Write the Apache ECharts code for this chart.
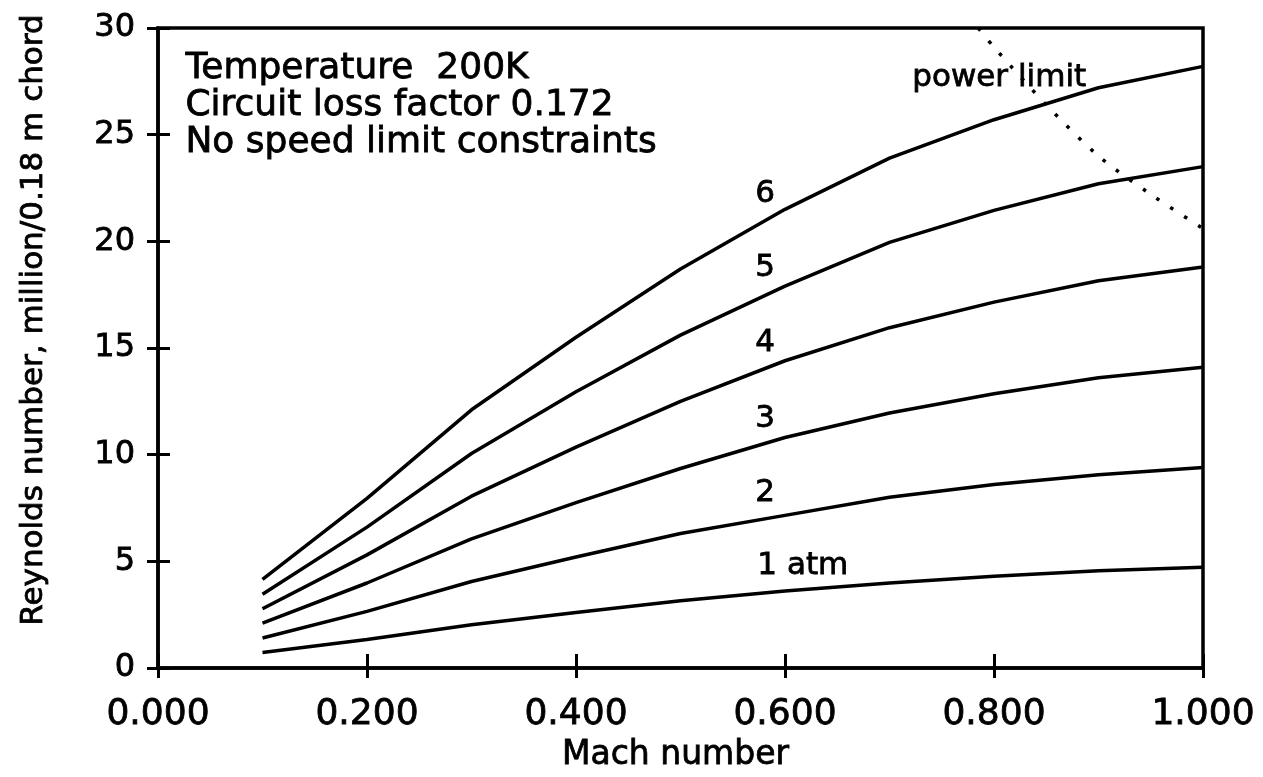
<!DOCTYPE html>
<html><head><meta charset="utf-8">
<script src="https://cdn.jsdelivr.net/npm/echarts@6/dist/echarts.min.js"></script>
<style>html,body{margin:0;padding:0;background:#fff}#c{width:1263px;height:777px}</style>
</head><body><div id="c"></div>
<script>
// ---- data ----
const mach = [0.1, 0.2, 0.3, 0.4, 0.5, 0.6, 0.7, 0.8, 0.9, 1.0];
const re1atm = [0.72, 1.33, 2.02, 2.60, 3.15, 3.60, 3.98, 4.30, 4.55, 4.72];
const re2atm = [1.40, 2.65, 4.05, 5.20, 6.30, 7.15, 8.00, 8.60, 9.05, 9.40];
const re3atm = [2.10, 3.98, 6.05, 7.75, 9.35, 10.80, 11.95, 12.85, 13.60, 14.10];
const re4atm = [2.77, 5.30, 8.05, 10.35, 12.50, 14.40, 15.95, 17.15, 18.15, 18.80];
const re5atm = [3.45, 6.60, 10.05, 12.95, 15.60, 17.90, 19.95, 21.45, 22.70, 23.50];
const re6atm = [4.15, 7.95, 12.10, 15.50, 18.70, 21.50, 23.90, 25.70, 27.20, 28.20];
const powerMach = [0.785, 0.80, 0.85, 0.90, 0.95, 1.00];
const powerRe = [30.0, 29.1, 26.4, 24.0, 22.2, 20.6];
const curveLabels = ['1 atm', '2', '3', '4', '5', '6', 'power limit'];
const curveLabelMach = [0.617, 0.581, 0.581, 0.581, 0.581, 0.581, 0.805];
const curveLabelRe = [4.77, 8.21, 11.65, 15.23, 18.76, 22.2, 27.66];
const notes = ['Temperature  200K', 'Circuit loss factor 0.172', 'No speed limit constraints'];
const xTitle = 'Mach number';
const yTitle = 'Reynolds number, million/0.18 m chord';

// ---- chart ----
const FONT = 'DejaVu Sans';
const BORDER = {textBorderColor: '#000', textBorderWidth: 0.8};
const chart = echarts.init(document.getElementById('c'), null, {renderer: 'canvas'});
const curves = [re1atm, re2atm, re3atm, re4atm, re5atm, re6atm];
const series = curves.map(arr => ({
  type: 'line', xAxisIndex: 0, yAxisIndex: 0,
  data: mach.map((m, i) => [m, arr[i]]),
  symbol: 'none', smooth: false,
  lineStyle: {color: '#000', width: 3.5}
}));
series.push({
  type: 'line', xAxisIndex: 0, yAxisIndex: 0,
  data: powerMach.map((m, i) => [m, powerRe[i]]),
  symbol: 'none', smooth: 0.3,
  lineStyle: {color: '#000', width: 3.5, type: [3.5, 13]}
});
series.push({
  type: 'scatter', xAxisIndex: 0, yAxisIndex: 0,
  symbolSize: 1, silent: true,
  itemStyle: {opacity: 1, color: 'rgba(0,0,0,0)'},
  data: curveLabels.map((t, i) => ({name: t, value: [curveLabelMach[i], curveLabelRe[i]]})),
  label: Object.assign({show: true, position: 'inside', formatter: p => p.name,
    fontFamily: FONT, fontSize: 31, color: '#000'}, BORDER)
});

const notesGraphic = notes.map((t, i) => ({
  type: 'text', left: 185, top: 50 + i * 37,
  style: {text: t, font: '36px "DejaVu Sans"', fill: '#000', stroke: '#000', lineWidth: 0.8}
}));

const baseX = {type: 'value', min: 0, max: 1, interval: 0.2, gridIndex: 0, position: 'bottom'};
const baseY = {type: 'value', min: 0, max: 30, interval: 5, gridIndex: 0, position: 'left'};

chart.setOption({
  animation: false,
  backgroundColor: '#fff',
  grid: {left: 158, right: 60, top: 28, bottom: 96, show: true, borderColor: '#000', borderWidth: 3.5, backgroundColor: 'transparent'},
  xAxis: [
    Object.assign({}, baseX, {
      axisLine: {show: true, lineStyle: {color: '#000', width: 3.5}},
      axisTick: {show: true, inside: false, length: 10, lineStyle: {color: '#000', width: 3}},
      axisLabel: Object.assign({show: true, formatter: v => v.toFixed(3), fontFamily: FONT, fontSize: 36, color: '#000', margin: 29}, BORDER),
      splitLine: {show: false},
      name: xTitle, nameLocation: 'middle', nameGap: 65,
      nameTextStyle: Object.assign({fontFamily: FONT, fontSize: 33, color: '#000', padding: [0, 10, 0, 0]}, BORDER)
    }),
    Object.assign({}, baseX, {
      axisLine: {show: false},
      axisTick: {show: true, inside: true, length: 14, lineStyle: {color: '#000', width: 3}},
      axisLabel: {show: false}, splitLine: {show: false}
    })
  ],
  yAxis: [
    Object.assign({}, baseY, {
      axisLine: {show: true, lineStyle: {color: '#000', width: 3.5}},
      axisTick: {show: true, inside: false, length: 11, lineStyle: {color: '#000', width: 3}},
      axisLabel: Object.assign({show: true, fontFamily: FONT, fontSize: 32, color: '#000', margin: 23}, BORDER),
      splitLine: {show: false}
    }),
    Object.assign({}, baseY, {
      axisLine: {show: false},
      axisTick: {show: true, inside: true, length: 12, lineStyle: {color: '#000', width: 3}},
      axisLabel: {show: false}, splitLine: {show: false}
    })
  ],
  graphic: notesGraphic.concat([{
    type: 'text', x: 34, y: 320, rotation: Math.PI / 2,
    style: {text: yTitle, font: '31px "DejaVu Sans"', fill: '#000', stroke: '#000', lineWidth: 0.8, align: 'center', verticalAlign: 'middle'}
  }]),
  series: series
});
</script>
</body></html>
